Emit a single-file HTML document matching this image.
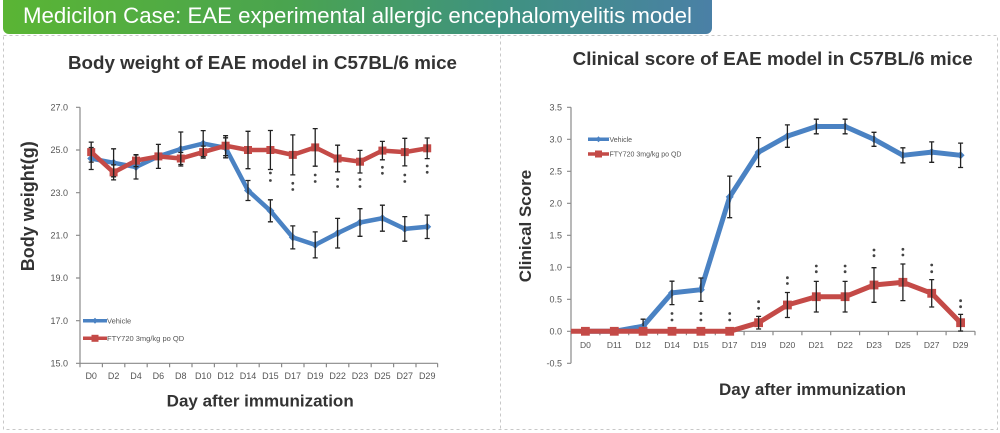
<!DOCTYPE html>
<html><head><meta charset="utf-8">
<style>
html,body{margin:0;padding:0;background:#fff;}
svg{display:block;}
text{font-family:"Liberation Sans",Arial,sans-serif;}
</style></head>
<body>
<svg width="1000" height="433" viewBox="0 0 1000 433" xmlns="http://www.w3.org/2000/svg">
<defs>
<linearGradient id="bg" x1="0" y1="0" x2="1" y2="0">
<stop offset="0" stop-color="#5ab534"/>
<stop offset="0.4" stop-color="#4aa44f"/>
<stop offset="0.7" stop-color="#3f9280"/>
<stop offset="1" stop-color="#4a80a6"/>
</linearGradient>
</defs>
<rect width="1000" height="433" fill="#fff"/>
<!-- dashed panels -->
<g stroke="#c8c8c8" stroke-width="1" stroke-dasharray="3,3" fill="none">
<path d="M3.5 35.5 H997.5 V429.5 H3.5 Z"/>
<path d="M500.5 35.5 V429.5"/>
</g>
<!-- banner -->
<rect x="3" y="-6" width="709" height="40" rx="6" fill="url(#bg)"/>
<text x="23" y="23" font-size="22" fill="#fff" textLength="669" lengthAdjust="spacingAndGlyphs">Medicilon Case: EAE experimental allergic encephalomyelitis model</text>

<!-- titles -->
<text x="262.5" y="69" font-size="18.5" font-weight="bold" fill="#333" text-anchor="middle" textLength="389" lengthAdjust="spacingAndGlyphs">Body weight of EAE model in C57BL/6 mice</text>
<text x="772.7" y="65" font-size="18.5" font-weight="bold" fill="#333" text-anchor="middle" textLength="400" lengthAdjust="spacingAndGlyphs">Clinical score of EAE model in C57BL/6 mice</text>

<!-- ============ LEFT CHART ============ -->
<g stroke="#8a8a8a" stroke-width="1.2" fill="none">
<path d="M80 107.3 V363.3 H437.6"/>
<path d="M76 107.3H80M76 150H80M76 192.7H80M76 235.3H80M76 278H80M76 320.7H80M76 363.3H80"/>
<path d="M80 363.3v4M102.4 363.3v4M124.8 363.3v4M147.2 363.3v4M169.6 363.3v4M192 363.3v4M214.4 363.3v4M236.8 363.3v4M259.2 363.3v4M281.6 363.3v4M304 363.3v4M326.4 363.3v4M348.8 363.3v4M371.2 363.3v4M393.6 363.3v4M416 363.3v4M437.6 363.3v4"/>
</g>
<g font-size="9" fill="#555" text-anchor="end">
<text x="68" y="110.5">27.0</text>
<text x="68" y="153.2">25.0</text>
<text x="68" y="195.9">23.0</text>
<text x="68" y="238.5">21.0</text>
<text x="68" y="281.2">19.0</text>
<text x="68" y="323.9">17.0</text>
<text x="68" y="366.5">15.0</text>
</g>
<g font-size="9" fill="#555" text-anchor="middle">
<text x="91.2" y="379">D0</text>
<text x="113.6" y="379">D2</text>
<text x="136" y="379">D4</text>
<text x="158.4" y="379">D6</text>
<text x="180.8" y="379">D8</text>
<text x="203.2" y="379">D10</text>
<text x="225.6" y="379">D12</text>
<text x="248" y="379">D14</text>
<text x="270.4" y="379">D15</text>
<text x="292.8" y="379">D17</text>
<text x="315.2" y="379">D19</text>
<text x="337.6" y="379">D22</text>
<text x="360" y="379">D23</text>
<text x="382.4" y="379">D25</text>
<text x="404.8" y="379">D27</text>
<text x="427.2" y="379">D29</text>
</g>
<text x="260.2" y="406.5" font-size="17" font-weight="bold" fill="#333" text-anchor="middle">Day after immunization</text>
<text transform="translate(34,206.3) rotate(-90)" font-size="18" font-weight="bold" fill="#333" text-anchor="middle">Body weight(g)</text>

<!-- left series -->
<polyline fill="none" stroke="#4a82c3" stroke-width="4.5" stroke-linejoin="round" points="91.2,158.5 113.6,162.8 136,167 158.4,156.4 180.8,149 203.2,143.6 225.6,147.8 248,190.5 270.4,210.8 292.8,237.4 315.2,244.9 337.6,233.2 360,222.5 382.4,218.2 404.8,228.9 427.2,226.8"/>
<g fill="#4a82c3">
<path d="M91.2 154.5l4 4-4 4-4-4zM113.6 158.8l4 4-4 4-4-4zM136 163l4 4-4 4-4-4zM158.4 152.4l4 4-4 4-4-4zM180.8 145l4 4-4 4-4-4zM203.2 139.6l4 4-4 4-4-4zM225.6 143.8l4 4-4 4-4-4zM248 186.5l4 4-4 4-4-4zM270.4 206.8l4 4-4 4-4-4zM292.8 233.4l4 4-4 4-4-4zM315.2 240.9l4 4-4 4-4-4zM337.6 229.2l4 4-4 4-4-4zM360 218.5l4 4-4 4-4-4zM382.4 214.2l4 4-4 4-4-4zM404.8 224.9l4 4-4 4-4-4zM427.2 222.8l4 4-4 4-4-4z"/>
</g>
<polyline fill="none" stroke="#c44a47" stroke-width="4.5" stroke-linejoin="round" points="91.2,152.1 113.6,172.4 136,160.6 158.4,156.4 180.8,158.5 203.2,152.1 225.6,145.7 248,150 270.4,150 292.8,154.9 315.2,147.4 337.6,158.5 360,161.7 382.4,150.6 404.8,152.1 427.2,148.3"/>
<g fill="#c44a47">
<rect x="87.2" y="148.1" width="8" height="8"/>
<rect x="109.6" y="168.4" width="8" height="8"/>
<rect x="132" y="156.6" width="8" height="8"/>
<rect x="154.4" y="152.4" width="8" height="8"/>
<rect x="176.8" y="154.5" width="8" height="8"/>
<rect x="199.2" y="148.1" width="8" height="8"/>
<rect x="221.6" y="141.7" width="8" height="8"/>
<rect x="244" y="146" width="8" height="8"/>
<rect x="266.4" y="146" width="8" height="8"/>
<rect x="288.8" y="150.9" width="8" height="8"/>
<rect x="311.2" y="143.4" width="8" height="8"/>
<rect x="333.6" y="154.5" width="8" height="8"/>
<rect x="356" y="157.7" width="8" height="8"/>
<rect x="378.4" y="146.6" width="8" height="8"/>
<rect x="400.8" y="148.1" width="8" height="8"/>
<rect x="423.2" y="144.3" width="8" height="8"/>
</g>
<!-- left error bars -->
<g stroke="#222" stroke-width="1.3" fill="none">
<!-- blue -->
<path d="M91.2 147.5V169.5M88.7 147.5h5M88.7 169.5h5"/>
<path d="M113.6 148.8V176.8M111.1 148.8h5M111.1 176.8h5"/>
<path d="M136 155V179M133.5 155h5M133.5 179h5"/>
<path d="M158.4 144.4V168.4M155.9 144.4h5M155.9 168.4h5"/>
<path d="M180.8 132V166M178.3 132h5M178.3 166h5"/>
<path d="M203.2 130.6V156.6M200.7 130.6h5M200.7 156.6h5"/>
<path d="M225.6 137.8V157.8M223.1 137.8h5M223.1 157.8h5"/>
<path d="M248 180.5V200.5M245.5 180.5h5M245.5 200.5h5"/>
<path d="M270.4 199.8V221.8M267.9 199.8h5M267.9 221.8h5"/>
<path d="M292.8 225.9V248.9M290.3 225.9h5M290.3 248.9h5"/>
<path d="M315.2 231.9V257.9M312.7 231.9h5M312.7 257.9h5"/>
<path d="M337.6 218.4V248M335.1 218.4h5M335.1 248h5"/>
<path d="M360 208.7V236.3M357.5 208.7h5M357.5 236.3h5"/>
<path d="M382.4 205.2V231.2M379.9 205.2h5M379.9 231.2h5"/>
<path d="M404.8 216.6V241.2M402.3 216.6h5M402.3 241.2h5"/>
<path d="M427.2 215.1V238.5M424.7 215.1h5M424.7 238.5h5"/>
<!-- red -->
<path d="M91.2 142.1V162.1M88.7 142.1h5M88.7 162.1h5"/>
<path d="M113.6 164.9V179.9M111.1 164.9h5M111.1 179.9h5"/>
<path d="M136 154.6V166.6M133.5 154.6h5M133.5 166.6h5"/>
<path d="M158.4 144.4V168.4"/>
<path d="M180.8 152.5V164.5M178.3 152.5h5M178.3 164.5h5"/>
<path d="M203.2 146.1V158.1M200.7 146.1h5M200.7 158.1h5"/>
<path d="M225.6 135.7V155.7M223.1 135.7h5M223.1 155.7h5"/>
<path d="M248 131.3V168.7M245.5 131.3h5M245.5 168.7h5"/>
<path d="M270.4 130.5V169.5M267.9 130.5h5M267.9 169.5h5"/>
<path d="M292.8 134.9V174.9M290.3 134.9h5M290.3 174.9h5"/>
<path d="M315.2 128.6V166.2M312.7 128.6h5M312.7 166.2h5"/>
<path d="M337.6 145.2V171.8M335.1 145.2h5M335.1 171.8h5"/>
<path d="M360 150.4V173M357.5 150.4h5M357.5 173h5"/>
<path d="M382.4 141.4V159.8M379.9 141.4h5M379.9 159.8h5"/>
<path d="M404.8 138.3V165.9M402.3 138.3h5M402.3 165.9h5"/>
<path d="M427.2 138V158.6M424.7 138h5M424.7 158.6h5"/>
</g>
<!-- left stars -->
<g fill="#444">
<circle cx="270.4" cy="173" r="1.4"/><circle cx="270.4" cy="180.5" r="1.4"/>
<circle cx="292.8" cy="183.3" r="1.4"/><circle cx="292.8" cy="189.5" r="1.4"/>
<circle cx="315.2" cy="175" r="1.4"/><circle cx="315.2" cy="181.5" r="1.4"/>
<circle cx="337.6" cy="179.5" r="1.4"/><circle cx="337.6" cy="186.5" r="1.4"/>
<circle cx="360" cy="179.5" r="1.4"/><circle cx="360" cy="186.5" r="1.4"/>
<circle cx="382.4" cy="167.3" r="1.4"/><circle cx="382.4" cy="173.3" r="1.4"/>
<circle cx="404.8" cy="175" r="1.4"/><circle cx="404.8" cy="181.5" r="1.4"/>
<circle cx="427.2" cy="166" r="1.4"/><circle cx="427.2" cy="172.3" r="1.4"/>
</g>
<!-- left legend -->
<path d="M83 320.7H107" stroke="#4a82c3" stroke-width="3.5"/>
<path d="M95 317.7l3 3-3 3-3-3z" fill="#4a82c3"/>
<text x="107" y="323.5" font-size="7.5" fill="#555">Vehicle</text>
<path d="M83 338.3H107" stroke="#c44a47" stroke-width="3.5"/>
<rect x="91.5" y="334.8" width="7" height="7" fill="#c44a47"/>
<text x="107" y="341" font-size="7.5" fill="#555">FTY720 3mg/kg po QD</text>

<!-- ============ RIGHT CHART ============ -->
<g stroke="#8a8a8a" stroke-width="1.2" fill="none">
<path d="M571 107.3 V363.3"/>
<path d="M571 331.3 H975"/>
<path d="M567 107.3H571M567 139.3H571M567 171.3H571M567 203.3H571M567 235.3H571M567 267.3H571M567 299.3H571M567 331.3H571M567 363.3H571"/>
<path d="M571 331.3v4M599.9 331.3v4M628.7 331.3v4M657.6 331.3v4M686.4 331.3v4M715.3 331.3v4M744.1 331.3v4M773 331.3v4M801.9 331.3v4M830.7 331.3v4M859.6 331.3v4M888.4 331.3v4M917.3 331.3v4M946.1 331.3v4M975 331.3v4"/>
</g>
<g font-size="9" fill="#555" text-anchor="end">
<text x="562" y="110.5">3.5</text>
<text x="562" y="142.5">3.0</text>
<text x="562" y="174.5">2.5</text>
<text x="562" y="206.5">2.0</text>
<text x="562" y="238.5">1.5</text>
<text x="562" y="270.5">1.0</text>
<text x="562" y="302.5">0.5</text>
<text x="562" y="334.5">0.0</text>
<text x="562" y="366.5">-0.5</text>
</g>
<g font-size="8.5" fill="#555" text-anchor="middle">
<text x="585.4" y="348">D0</text>
<text x="614.3" y="348">D11</text>
<text x="643.1" y="348">D12</text>
<text x="672" y="348">D14</text>
<text x="700.9" y="348">D15</text>
<text x="729.7" y="348">D17</text>
<text x="758.6" y="348">D19</text>
<text x="787.4" y="348">D20</text>
<text x="816.3" y="348">D21</text>
<text x="845.1" y="348">D22</text>
<text x="874" y="348">D23</text>
<text x="902.9" y="348">D25</text>
<text x="931.7" y="348">D27</text>
<text x="960.6" y="348">D29</text>
</g>
<text x="812.5" y="395" font-size="17" font-weight="bold" fill="#333" text-anchor="middle">Day after immunization</text>
<text transform="translate(531,226) rotate(-90)" font-size="17" font-weight="bold" fill="#333" text-anchor="middle">Clinical Score</text>

<polyline fill="none" stroke="#4a82c3" stroke-width="5" stroke-linejoin="round" points="585.4,331.3 614.3,331.3 643.1,326.2 672,292.9 700.9,289.7 729.7,196.9 758.6,152.1 787.4,136.1 816.3,126.5 845.1,126.5 874,139.3 902.9,155.3 931.7,152.1 960.6,155.3"/>
<g fill="#4a82c3">
<path d="M643.1 322.2l4 4-4 4-4-4zM672 288.9l4 4-4 4-4-4zM700.9 285.7l4 4-4 4-4-4zM729.7 192.9l4 4-4 4-4-4zM758.6 148.1l4 4-4 4-4-4zM787.4 132.1l4 4-4 4-4-4zM816.3 122.5l4 4-4 4-4-4zM845.1 122.5l4 4-4 4-4-4zM874 135.3l4 4-4 4-4-4zM902.9 151.3l4 4-4 4-4-4zM931.7 148.1l4 4-4 4-4-4zM960.6 151.3l4 4-4 4-4-4z"/>
</g>
<polyline fill="none" stroke="#c44a47" stroke-width="5" stroke-linejoin="round" points="571,331.3 585.4,331.3 614.3,331.3 643.1,331.3 672,331.3 700.9,331.3 729.7,331.3 758.6,322.7 787.4,305 816.3,296.7 845.1,296.7 874,285 902.9,282.3 931.7,293.3 960.6,322.7"/>
<g fill="#c44a47">
<rect x="581" y="326.9" width="8.8" height="8.8"/>
<rect x="609.9" y="326.9" width="8.8" height="8.8"/>
<rect x="638.7" y="326.9" width="8.8" height="8.8"/>
<rect x="667.6" y="326.9" width="8.8" height="8.8"/>
<rect x="696.5" y="326.9" width="8.8" height="8.8"/>
<rect x="725.3" y="326.9" width="8.8" height="8.8"/>
<rect x="754.2" y="318.3" width="8.8" height="8.8"/>
<rect x="783" y="300.6" width="8.8" height="8.8"/>
<rect x="811.9" y="292.3" width="8.8" height="8.8"/>
<rect x="840.7" y="292.3" width="8.8" height="8.8"/>
<rect x="869.6" y="280.6" width="8.8" height="8.8"/>
<rect x="898.5" y="277.9" width="8.8" height="8.8"/>
<rect x="927.3" y="288.9" width="8.8" height="8.8"/>
<rect x="956.2" y="318.3" width="8.8" height="8.8"/>
</g>
<g stroke="#222" stroke-width="1.3" fill="none">
<!-- blue -->
<path d="M643.1 319.2V326.2M640.6 319.2h5"/>
<path d="M672 281.2V304.6M669.5 281.2h5M669.5 304.6h5"/>
<path d="M700.9 278V301.4M698.4 278h5M698.4 301.4h5"/>
<path d="M729.7 176.1V217.7M727.2 176.1h5M727.2 217.7h5"/>
<path d="M758.6 137.6V166.6M756.1 137.6h5M756.1 166.6h5"/>
<path d="M787.4 124.9V147.3M784.9 124.9h5M784.9 147.3h5"/>
<path d="M816.3 119.2V133.8M813.8 119.2h5M813.8 133.8h5"/>
<path d="M845.1 119.2V133.8M842.6 119.2h5M842.6 133.8h5"/>
<path d="M874 132.3V146.3M871.5 132.3h5M871.5 146.3h5"/>
<path d="M902.9 147.8V162.8M900.4 147.8h5M900.4 162.8h5"/>
<path d="M931.7 141.9V162.3M929.2 141.9h5M929.2 162.3h5"/>
<path d="M960.6 143.1V167.5M958.1 143.1h5M958.1 167.5h5"/>
<!-- red -->
<path d="M758.6 316.4V329M756.1 316.4h5M756.1 329h5"/>
<path d="M787.4 292.5V317.5M784.9 292.5h5M784.9 317.5h5"/>
<path d="M816.3 281.4V312M813.8 281.4h5M813.8 312h5"/>
<path d="M845.1 281.4V312M842.6 281.4h5M842.6 312h5"/>
<path d="M874 267.7V302.3M871.5 267.7h5M871.5 302.3h5"/>
<path d="M902.9 264V300.6M900.4 264h5M900.4 300.6h5"/>
<path d="M931.7 279.6V307M929.2 279.6h5M929.2 307h5"/>
<path d="M960.6 314.4V331M958.1 314.4h5M958.1 331h5"/>
</g>
<g fill="#444">
<circle cx="672" cy="313.5" r="1.4"/><circle cx="672" cy="320" r="1.4"/>
<circle cx="700.9" cy="313.5" r="1.4"/><circle cx="700.9" cy="320" r="1.4"/>
<circle cx="729.7" cy="313.5" r="1.4"/><circle cx="729.7" cy="320" r="1.4"/>
<circle cx="758.6" cy="301.7" r="1.4"/><circle cx="758.6" cy="308.3" r="1.4"/>
<circle cx="787.4" cy="277.7" r="1.4"/><circle cx="787.4" cy="283.5" r="1.4"/>
<circle cx="816.3" cy="266" r="1.4"/><circle cx="816.3" cy="271.7" r="1.4"/>
<circle cx="845.1" cy="266" r="1.4"/><circle cx="845.1" cy="271.7" r="1.4"/>
<circle cx="874" cy="250" r="1.4"/><circle cx="874" cy="255.7" r="1.4"/>
<circle cx="902.9" cy="249.3" r="1.4"/><circle cx="902.9" cy="255" r="1.4"/>
<circle cx="931.7" cy="265" r="1.4"/><circle cx="931.7" cy="271.7" r="1.4"/>
<circle cx="960.6" cy="300.7" r="1.4"/><circle cx="960.6" cy="306.7" r="1.4"/>
</g>
<!-- right legend -->
<path d="M588 139.3H609" stroke="#4a82c3" stroke-width="3.5"/>
<path d="M598.5 136.3l3 3-3 3-3-3z" fill="#4a82c3"/>
<text x="609.5" y="141.8" font-size="7" fill="#555">Vehicle</text>
<path d="M588 154H609" stroke="#c44a47" stroke-width="3.5"/>
<rect x="595" y="150.5" width="7" height="7" fill="#c44a47"/>
<text x="609.5" y="156.5" font-size="7" fill="#555">FTY720 3mg/kg po QD</text>
</svg>
</body></html>
